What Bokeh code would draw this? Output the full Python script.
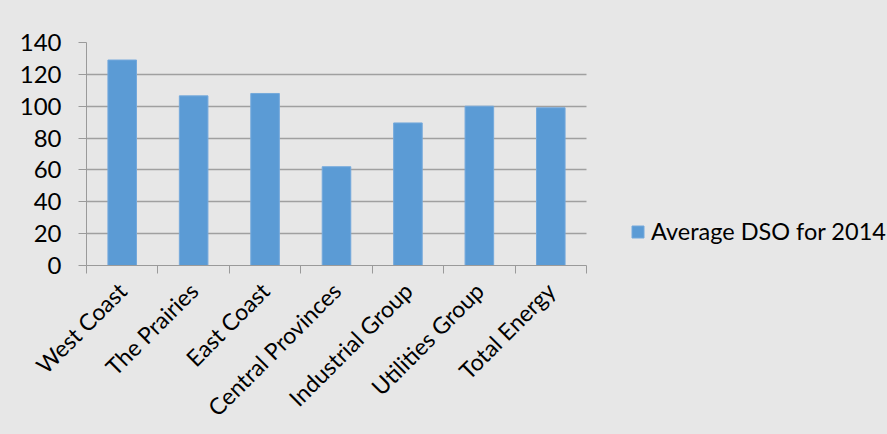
from bokeh.plotting import figure
from bokeh.models import Range1d, FixedTicker, Legend, LegendItem, ColumnDataSource
from bokeh.embed import file_html
from bokeh.resources import INLINE
import math

categories = ["West Coast", "The Prairies", "East Coast", "Central Provinces",
              "Industrial Group", "Utilities Group", "Total Energy"]
dso_2014 = [129, 106.5, 108, 62, 89.5, 100, 99]
y_ticks = [0, 20, 40, 60, 80, 100, 120, 140]
series_name = "Average DSO for 2014"

BG = "#e7e7e7"
FONT = "Lato"

W, H = 887, 434
LEFT, TOP, BOTTOM = 86, 42, 168
BAR_AREA_PX = 500            # pixel width of the category area
FRAME_PX = W - LEFT          # frame extends right to hold the legend

n = len(categories)
positions = [i + 0.5 for i in range(n)]
boundaries = list(range(n + 1))
x_end = n * FRAME_PX / BAR_AREA_PX

src = ColumnDataSource(dict(x=positions, top=dso_2014, cat=categories))

p = figure(width=W, height=H, output_backend="svg", toolbar_location=None,
           x_range=Range1d(0, x_end), y_range=Range1d(0, y_ticks[-1]),
           min_border_left=LEFT, min_border_right=0, min_border_top=TOP,
           min_border_bottom=BOTTOM)
p.background_fill_color = BG
p.border_fill_color = BG
p.outline_line_color = None

r = p.vbar(x="x", top="top", width=0.4, source=src, fill_color="#5b9bd5",
           line_color="#74a9dc", line_width=1)

# y axis
p.yaxis.ticker = FixedTicker(ticks=y_ticks)
p.yaxis.major_tick_out = 8
p.yaxis.major_tick_in = 0
p.yaxis.minor_tick_line_color = None
p.yaxis.axis_line_color = "#9a9a9a"
p.yaxis.major_tick_line_color = "#9a9a9a"
p.yaxis.major_label_standoff = 17
p.yaxis.major_label_text_font = FONT
p.yaxis.major_label_text_font_size = "24px"
p.yaxis.major_label_text_color = "#000000"

# x axis
p.xaxis.bounds = (0, n)
p.xaxis.ticker = FixedTicker(ticks=positions, minor_ticks=boundaries)
p.xaxis.major_label_overrides = {pos: c for pos, c in zip(positions, categories)}
p.xaxis.major_tick_line_color = None
p.xaxis.major_tick_out = 0
p.xaxis.major_tick_in = 0
p.xaxis.minor_tick_out = 8
p.xaxis.minor_tick_in = 0
p.xaxis.minor_tick_line_color = "#9a9a9a"
p.xaxis.axis_line_color = "#9a9a9a"
p.xaxis.major_label_orientation = math.pi / 4
p.xaxis.major_label_standoff = 13
p.xaxis.major_label_text_font = FONT
p.xaxis.major_label_text_font_size = "23px"
p.xaxis.major_label_text_color = "#000000"

p.xgrid.visible = False
p.ygrid.grid_line_color = "#a0a0a0"
p.ygrid.grid_line_width = 1.5
p.ygrid.cross_bounds = (0, n)

legend = Legend(items=[LegendItem(label=series_name, renderers=[r])],
                location=(544, 20), orientation="vertical",
                background_fill_alpha=0, border_line_color=None,
                padding=0, margin=0, glyph_width=15, glyph_height=15,
                label_standoff=6, label_text_font=FONT,
                label_text_font_size="23.5px", label_text_color="#000000")
p.add_layout(legend)

html = file_html(p, INLINE)
html = html.replace("</head>", "<style>body{background:%s;}</style></head>" % BG, 1)
open("out.html", "w").write(html)
